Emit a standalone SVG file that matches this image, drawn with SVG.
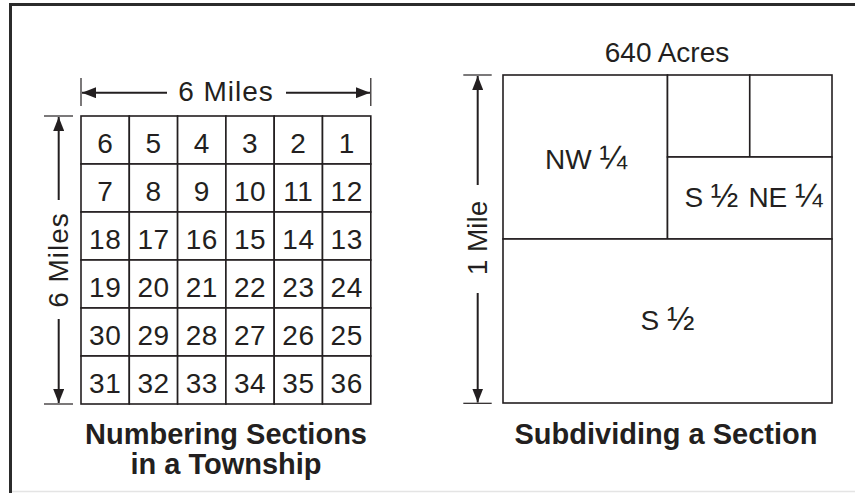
<svg xmlns="http://www.w3.org/2000/svg" width="855" height="493" viewBox="0 0 855 493">
<style>
.cell{fill:#fff;stroke:#231f20;stroke-width:1.6}
.num{font-family:"Liberation Sans",Arial,sans-serif;font-size:28px;fill:#231f20;text-anchor:middle;letter-spacing:0.5px}
.lbl{font-family:"Liberation Sans",Arial,sans-serif;font-size:28px;fill:#231f20;text-anchor:middle}
.frac{font-size:33px}
.ttl{font-family:"Liberation Sans",Arial,sans-serif;font-size:29px;font-weight:bold;fill:#231f20;text-anchor:middle}
.dim{stroke:#231f20;stroke-width:2;fill:none}
.tick{stroke:#231f20;stroke-width:1.2;fill:none}
</style>
<defs>
<marker id="ah" viewBox="0 0 14 11" refX="14" refY="5.5" markerWidth="14" markerHeight="11" markerUnits="userSpaceOnUse" orient="auto">
<path d="M0,0 L14,5.5 L0,11 z" fill="#231f20"/>
</marker>
</defs>
<rect width="855" height="493" fill="#fff"/>
<g id="frame">
<line x1="10.5" y1="3" x2="10.5" y2="493" stroke="#2b2b2b" stroke-width="3"/>
<line x1="9" y1="4.5" x2="855" y2="4.5" stroke="#2b2b2b" stroke-width="3"/>
<line x1="12" y1="491.5" x2="855" y2="491.5" stroke="#e4e4e4" stroke-width="1.5"/>
</g>
<g id="township">
<g id="sec-6"><rect class="cell" x="81" y="116" width="48.3" height="48"/><text class="num" x="105.2" y="153">6</text></g>
<g id="sec-5"><rect class="cell" x="129.3" y="116" width="48.3" height="48"/><text class="num" x="153.5" y="153">5</text></g>
<g id="sec-4"><rect class="cell" x="177.6" y="116" width="48.3" height="48"/><text class="num" x="201.8" y="153">4</text></g>
<g id="sec-3"><rect class="cell" x="225.9" y="116" width="48.3" height="48"/><text class="num" x="250.1" y="153">3</text></g>
<g id="sec-2"><rect class="cell" x="274.2" y="116" width="48.3" height="48"/><text class="num" x="298.4" y="153">2</text></g>
<g id="sec-1"><rect class="cell" x="322.5" y="116" width="48.3" height="48"/><text class="num" x="346.7" y="153">1</text></g>
<g id="sec-7"><rect class="cell" x="81" y="164" width="48.3" height="48"/><text class="num" x="105.2" y="201">7</text></g>
<g id="sec-8"><rect class="cell" x="129.3" y="164" width="48.3" height="48"/><text class="num" x="153.5" y="201">8</text></g>
<g id="sec-9"><rect class="cell" x="177.6" y="164" width="48.3" height="48"/><text class="num" x="201.8" y="201">9</text></g>
<g id="sec-10"><rect class="cell" x="225.9" y="164" width="48.3" height="48"/><text class="num" x="250.1" y="201">10</text></g>
<g id="sec-11"><rect class="cell" x="274.2" y="164" width="48.3" height="48"/><text class="num" x="298.4" y="201">11</text></g>
<g id="sec-12"><rect class="cell" x="322.5" y="164" width="48.3" height="48"/><text class="num" x="346.7" y="201">12</text></g>
<g id="sec-18"><rect class="cell" x="81" y="212" width="48.3" height="48"/><text class="num" x="105.2" y="249">18</text></g>
<g id="sec-17"><rect class="cell" x="129.3" y="212" width="48.3" height="48"/><text class="num" x="153.5" y="249">17</text></g>
<g id="sec-16"><rect class="cell" x="177.6" y="212" width="48.3" height="48"/><text class="num" x="201.8" y="249">16</text></g>
<g id="sec-15"><rect class="cell" x="225.9" y="212" width="48.3" height="48"/><text class="num" x="250.1" y="249">15</text></g>
<g id="sec-14"><rect class="cell" x="274.2" y="212" width="48.3" height="48"/><text class="num" x="298.4" y="249">14</text></g>
<g id="sec-13"><rect class="cell" x="322.5" y="212" width="48.3" height="48"/><text class="num" x="346.7" y="249">13</text></g>
<g id="sec-19"><rect class="cell" x="81" y="260" width="48.3" height="48"/><text class="num" x="105.2" y="297">19</text></g>
<g id="sec-20"><rect class="cell" x="129.3" y="260" width="48.3" height="48"/><text class="num" x="153.5" y="297">20</text></g>
<g id="sec-21"><rect class="cell" x="177.6" y="260" width="48.3" height="48"/><text class="num" x="201.8" y="297">21</text></g>
<g id="sec-22"><rect class="cell" x="225.9" y="260" width="48.3" height="48"/><text class="num" x="250.1" y="297">22</text></g>
<g id="sec-23"><rect class="cell" x="274.2" y="260" width="48.3" height="48"/><text class="num" x="298.4" y="297">23</text></g>
<g id="sec-24"><rect class="cell" x="322.5" y="260" width="48.3" height="48"/><text class="num" x="346.7" y="297">24</text></g>
<g id="sec-30"><rect class="cell" x="81" y="308" width="48.3" height="48"/><text class="num" x="105.2" y="345">30</text></g>
<g id="sec-29"><rect class="cell" x="129.3" y="308" width="48.3" height="48"/><text class="num" x="153.5" y="345">29</text></g>
<g id="sec-28"><rect class="cell" x="177.6" y="308" width="48.3" height="48"/><text class="num" x="201.8" y="345">28</text></g>
<g id="sec-27"><rect class="cell" x="225.9" y="308" width="48.3" height="48"/><text class="num" x="250.1" y="345">27</text></g>
<g id="sec-26"><rect class="cell" x="274.2" y="308" width="48.3" height="48"/><text class="num" x="298.4" y="345">26</text></g>
<g id="sec-25"><rect class="cell" x="322.5" y="308" width="48.3" height="48"/><text class="num" x="346.7" y="345">25</text></g>
<g id="sec-31"><rect class="cell" x="81" y="356" width="48.3" height="48"/><text class="num" x="105.2" y="393">31</text></g>
<g id="sec-32"><rect class="cell" x="129.3" y="356" width="48.3" height="48"/><text class="num" x="153.5" y="393">32</text></g>
<g id="sec-33"><rect class="cell" x="177.6" y="356" width="48.3" height="48"/><text class="num" x="201.8" y="393">33</text></g>
<g id="sec-34"><rect class="cell" x="225.9" y="356" width="48.3" height="48"/><text class="num" x="250.1" y="393">34</text></g>
<g id="sec-35"><rect class="cell" x="274.2" y="356" width="48.3" height="48"/><text class="num" x="298.4" y="393">35</text></g>
<g id="sec-36"><rect class="cell" x="322.5" y="356" width="48.3" height="48"/><text class="num" x="346.7" y="393">36</text></g>
</g>
<g id="section">
<g id="nw-quarter"><rect class="cell" x="503" y="75" width="164.5" height="164"/><text class="lbl" x="586" y="168.5">NW <tspan class="frac">¼</tspan></text></g>
<g id="ne-nw"><rect class="cell" x="667.5" y="75" width="82.25" height="82"/></g>
<g id="ne-ne"><rect class="cell" x="749.75" y="75" width="82.25" height="82"/></g>
<g id="s-half-ne"><rect class="cell" x="667.5" y="157" width="164.5" height="82"/><text class="lbl" x="753.5" y="207">S <tspan class="frac">½</tspan><tspan dx="10">NE </tspan><tspan class="frac">¼</tspan></text></g>
<g id="s-half"><rect class="cell" x="503" y="239" width="329" height="164"/><text class="lbl" x="667.5" y="330">S <tspan class="frac">½</tspan></text></g>
</g>
<g id="labels">
<text class="lbl" x="226" y="101" letter-spacing="1">6 Miles</text>
<text class="lbl" transform="translate(68,260) rotate(-90)" letter-spacing="1">6 Miles</text>
<text class="lbl" x="667" y="62">640 Acres</text>
<text class="lbl" transform="translate(487,238) rotate(-90)">1 Mile</text>
<text class="ttl" x="226" y="444">Numbering Sections</text>
<text class="ttl" x="226" y="474">in a Township</text>
<text class="ttl" x="666" y="444">Subdividing a Section</text>
</g>
<g id="connectors">
<line class="tick" x1="81" y1="78" x2="81" y2="106"/>
<line class="tick" x1="370.8" y1="78" x2="370.8" y2="106"/>
<line class="dim" x1="167" y1="92.7" x2="82" y2="92.7" marker-end="url(#ah)"/>
<line class="dim" x1="286" y1="92.7" x2="370" y2="92.7" marker-end="url(#ah)"/>
<line class="tick" x1="44" y1="116" x2="73" y2="116"/>
<line class="tick" x1="44" y1="404" x2="73" y2="404"/>
<line class="dim" x1="58.7" y1="200" x2="58.7" y2="117" marker-end="url(#ah)"/>
<line class="dim" x1="58.7" y1="319" x2="58.7" y2="403" marker-end="url(#ah)"/>
<line class="tick" x1="463.3" y1="75" x2="491.7" y2="75"/>
<line class="tick" x1="463.3" y1="403.3" x2="491.7" y2="403.3"/>
<line class="dim" x1="477.7" y1="185" x2="477.7" y2="76" marker-end="url(#ah)"/>
<line class="dim" x1="477.7" y1="293" x2="477.7" y2="402.5" marker-end="url(#ah)"/>
</g>
</svg>
